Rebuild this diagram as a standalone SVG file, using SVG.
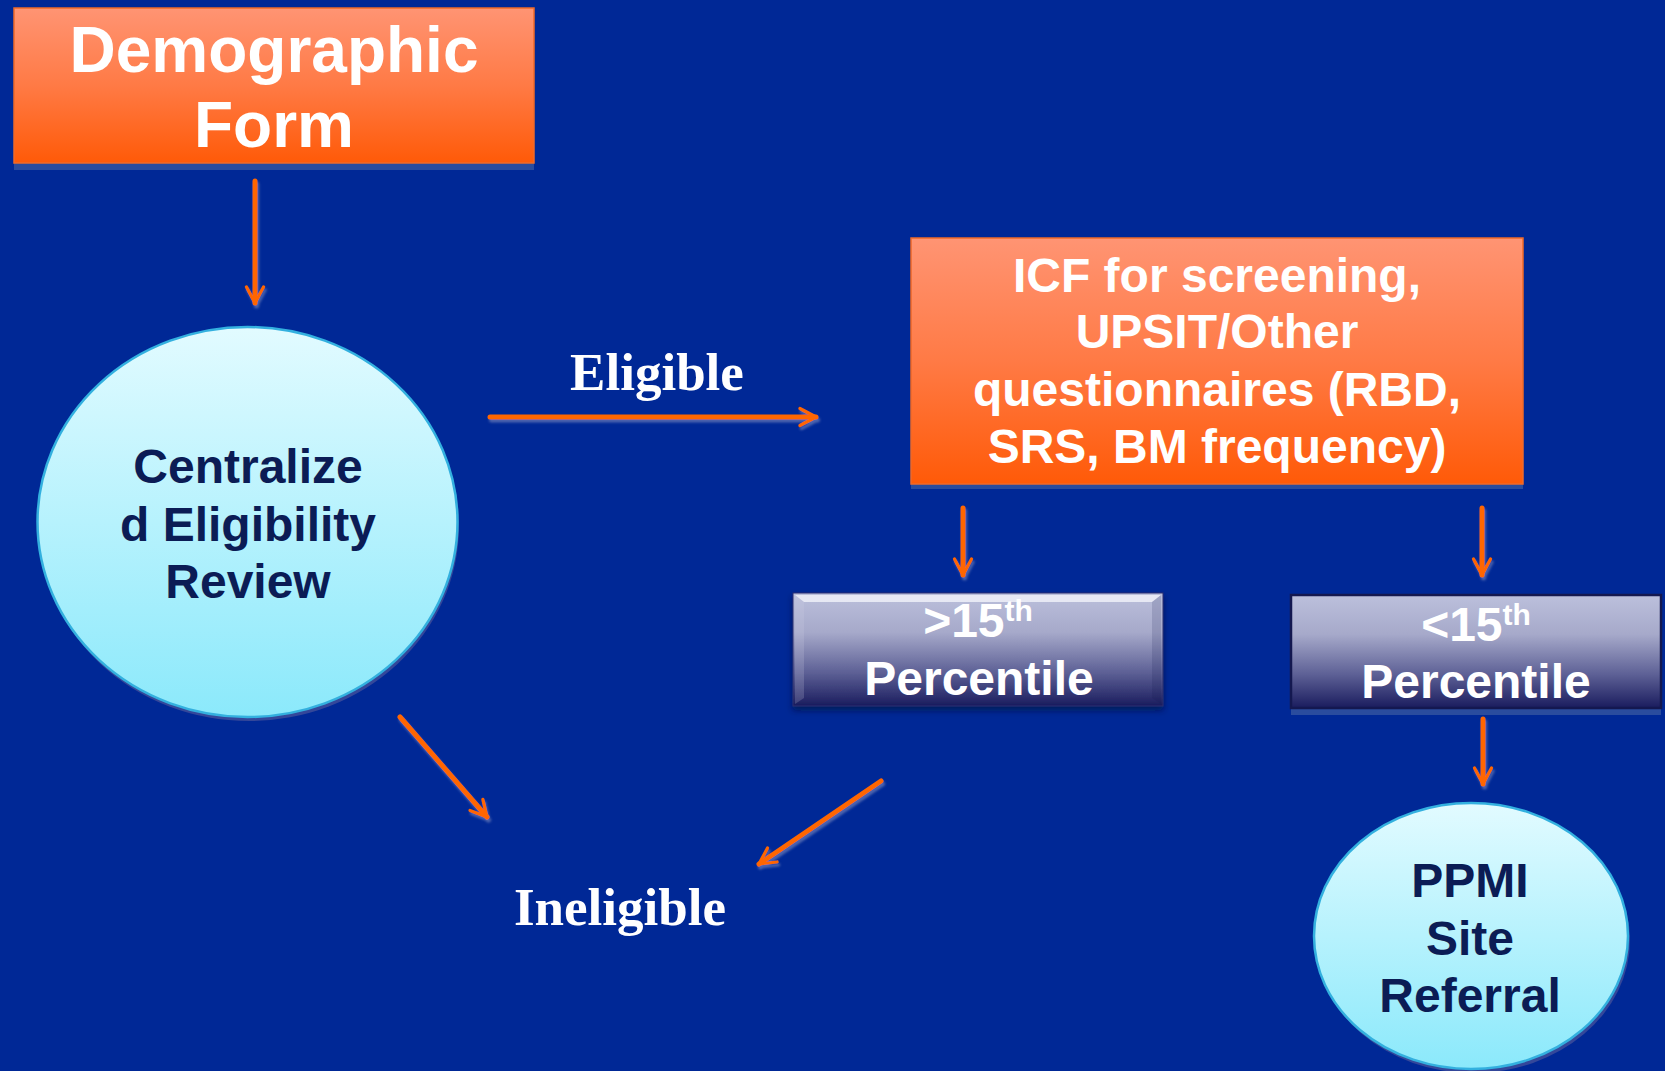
<svg xmlns="http://www.w3.org/2000/svg" width="1665" height="1071" viewBox="0 0 1665 1071">
<defs>
<style>
.sans{font-family:"Liberation Sans",Arial,sans-serif;font-weight:bold;text-anchor:middle}
.serif{font-family:"Liberation Serif","Times New Roman",serif;font-weight:bold;text-anchor:middle;fill:#ffffff;font-size:53px}
.wt{fill:#ffffff}
.nv{fill:#0B1C55}
.conn{stroke:#FF6600;stroke-width:5;stroke-linecap:round;fill:none;marker-end:url(#head)}
</style>
<linearGradient id="org" x1="0" y1="0" x2="0" y2="1">
<stop offset="0" stop-color="#FF9473"/>
<stop offset="0.5" stop-color="#FF7A45"/>
<stop offset="1" stop-color="#FF5A08"/>
</linearGradient>
<linearGradient id="gry" x1="0" y1="0" x2="0" y2="1">
<stop offset="0" stop-color="#BCC0DC"/>
<stop offset="0.35" stop-color="#A6A9CA"/>
<stop offset="0.7" stop-color="#5E6196"/>
<stop offset="1" stop-color="#1A1C5E"/>
</linearGradient>
<linearGradient id="cyan" x1="0" y1="0" x2="0" y2="1">
<stop offset="0" stop-color="#E2FBFF"/>
<stop offset="1" stop-color="#8BE9FB"/>
</linearGradient>
<marker id="head" viewBox="0 0 10 10" refX="8.5" refY="5" markerWidth="4.6" markerHeight="4.6" orient="auto" markerUnits="strokeWidth">
<path d="M1.5,1.3 L8.5,5 L1.5,8.7" fill="none" stroke="#FF6600" stroke-width="1.4" stroke-linecap="round" stroke-linejoin="round"/>
</marker>
<filter id="ash" filterUnits="userSpaceOnUse" x="0" y="0" width="1665" height="1071">
<feDropShadow dx="1.5" dy="3" stdDeviation="1.2" flood-color="#6B7CB8" flood-opacity="0.7"/>
</filter>
<filter id="bsh" x="-10%" y="-10%" width="120%" height="130%">
<feDropShadow dx="0" dy="4" stdDeviation="3" flood-color="#000830" flood-opacity="0.6"/>
</filter>
</defs>
<rect width="1665" height="1071" fill="#002896"/>

<g id="connectors" filter="url(#ash)">
<line class="conn" x1="255" y1="181" x2="255" y2="303"/>
<line class="conn" x1="490" y1="417" x2="816" y2="417"/>
<line class="conn" x1="963" y1="508" x2="963" y2="575"/>
<line class="conn" x1="1482" y1="508" x2="1482" y2="575"/>
<line class="conn" x1="1483" y1="719" x2="1483" y2="784"/>
<line class="conn" x1="400" y1="717" x2="487" y2="817"/>
<line class="conn" x1="881" y1="781" x2="759" y2="864"/>
</g>

<g id="demographic-form">
<rect x="14" y="14" width="520" height="156" fill="#2A4C9E"/>
<rect x="14" y="8" width="520" height="155" fill="url(#org)" stroke="#F06A28" stroke-width="1.5"/>
<text class="sans wt" x="274" y="72" font-size="64">Demographic</text>
<text class="sans wt" x="274" y="147" font-size="64">Form</text>
</g>

<g id="eligibility-review">
<ellipse cx="249" cy="526" rx="210" ry="195" fill="#34479A"/>
<ellipse cx="247.5" cy="522" rx="210" ry="195" fill="url(#cyan)" stroke="#33B0DF" stroke-width="2.5"/>
<text class="sans nv" x="248" y="483" font-size="48">Centralize</text>
<text class="sans nv" x="248" y="541" font-size="48">d Eligibility</text>
<text class="sans nv" x="248" y="598" font-size="48">Review</text>
</g>

<g id="eligible-label">
<text class="serif" x="657" y="390">Eligible</text>
</g>

<g id="icf-screening">
<rect x="911" y="243" width="612" height="246" fill="#2A4C9E"/>
<rect x="911" y="238" width="612" height="246" fill="url(#org)" stroke="#F06A28" stroke-width="1.5"/>
<text class="sans wt" x="1217" y="292" font-size="48">ICF for screening,</text>
<text class="sans wt" x="1217" y="348" font-size="48">UPSIT/Other</text>
<text class="sans wt" x="1217" y="406" font-size="48">questionnaires (RBD,</text>
<text class="sans wt" x="1217" y="463" font-size="48">SRS, BM frequency)</text>
</g>

<g id="above-15th">
<rect x="793" y="593" width="370" height="113" fill="url(#gry)" filter="url(#bsh)" stroke="#2A2F70" stroke-width="1"/>
<path d="M795,595 L1161,595 L1152,602 L804,602 Z" fill="#EEF0F8" opacity="0.85"/>
<path d="M795,595 L804,602 L804,698 L795,704 Z" fill="#D0D3E8" opacity="0.2"/>
<path d="M1161,595 L1152,602 L1152,698 L1161,704 Z" fill="#10124A" opacity="0.15"/>
<text class="sans wt" x="978" y="637" font-size="48">&gt;15<tspan font-size="30" dy="-16">th</tspan></text>
<text class="sans wt" x="979" y="695" font-size="48">Percentile</text>
</g>

<g id="below-15th">
<rect x="1291" y="707" width="370" height="8" fill="#2A4C9E"/>
<rect x="1291" y="595" width="370" height="113" fill="url(#gry)" stroke="#141850" stroke-width="2.5"/>
<text class="sans wt" x="1476" y="641" font-size="48">&lt;15<tspan font-size="30" dy="-16">th</tspan></text>
<text class="sans wt" x="1476" y="698" font-size="48">Percentile</text>
</g>

<g id="ineligible-label">
<text class="serif" x="620" y="925">Ineligible</text>
</g>

<g id="ppmi-referral">
<ellipse cx="1473" cy="940" rx="157" ry="133" fill="#34479A"/>
<ellipse cx="1471" cy="936" rx="157" ry="133" fill="url(#cyan)" stroke="#33B0DF" stroke-width="2.5"/>
<text class="sans nv" x="1470" y="897" font-size="48">PPMI</text>
<text class="sans nv" x="1470" y="955" font-size="48">Site</text>
<text class="sans nv" x="1470" y="1012" font-size="48">Referral</text>
</g>
</svg>
